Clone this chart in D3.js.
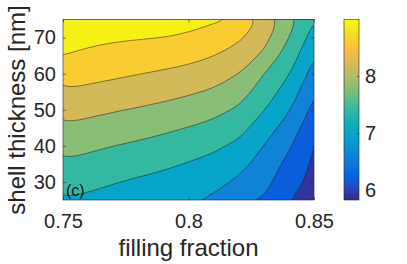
<!DOCTYPE html>
<html>
<head>
<meta charset="utf-8">
<script src="https://cdn.jsdelivr.net/npm/d3@7"></script>
<style>
  body { margin: 0; background: #fff; }
  svg { display: block; font-family: "Liberation Sans", Arial, Helvetica, sans-serif; }
</style>
</head>
<body>
<svg id="chart" width="407" height="264"></svg>
<script>
// grid of the contour plot: columns = filling fraction, rows = shell thickness
const fraction  = [0.75, 0.76, 0.77, 0.78, 0.79, 0.80, 0.81, 0.82, 0.83, 0.84, 0.85];
const thickness = [25, 30, 35, 40, 45, 50, 55, 60, 65, 70, 75];

// one row per thickness value (25 nm first)
const zRows = [
  [7.19, 7.13, 7.07, 7.00, 6.94, 6.87, 6.73, 6.56, 6.38, 6.02, 5.83],
  [7.37, 7.29, 7.22, 7.15, 7.08, 7.01, 6.92, 6.73, 6.52, 6.15, 5.89],
  [7.55, 7.48, 7.41, 7.34, 7.27, 7.18, 7.09, 6.92, 6.66, 6.29, 5.94],
  [7.75, 7.68, 7.60, 7.54, 7.47, 7.38, 7.27, 7.12, 6.79, 6.45, 5.99],
  [7.95, 7.88, 7.82, 7.75, 7.67, 7.59, 7.49, 7.33, 7.01, 6.62, 6.14],
  [8.16, 8.10, 8.03, 7.97, 7.90, 7.82, 7.72, 7.54, 7.22, 6.84, 6.29],
  [8.37, 8.31, 8.25, 8.19, 8.13, 8.05, 7.95, 7.78, 7.42, 7.02, 6.46],
  [8.59, 8.53, 8.47, 8.41, 8.35, 8.28, 8.19, 8.02, 7.60, 7.22, 6.65],
  [8.80, 8.74, 8.69, 8.64, 8.58, 8.52, 8.42, 8.23, 7.92, 7.42, 6.84],
  [8.89, 8.87, 8.84, 8.82, 8.80, 8.78, 8.66, 8.46, 8.14, 7.60, 7.03],
  [8.99, 8.96, 8.93, 8.90, 8.87, 8.85, 8.84, 8.76, 8.31, 7.76, 7.22]
];

const levels  = [6.0, 6.4, 6.8, 7.2, 7.6, 8.0, 8.4, 8.8];
const xTicks  = [0.75, 0.8, 0.85];
const yTicks  = [30, 40, 50, 60, 70];
const cbTicks = [6, 7, 8];

// parula colormap (sampled)
const parulaPos = [0, 0.079, 0.127, 0.206, 0.286, 0.365, 0.444, 0.524, 0.603, 0.683, 0.762, 0.841, 0.921, 1];
const parulaHex = ["#352a87", "#2b4ac7", "#0363e1", "#1079da", "#108ed2", "#06a4ca", "#15b1b4",
                   "#42bb98", "#7cbf7b", "#aebd67", "#d9ba56", "#fdbe3d", "#f5de21", "#f9fb0e"];

const svg = d3.select("#chart");
const plot = {left: 63, right: 314, top: 19.5, bottom: 200};

const x = d3.scaleLinear().domain([0.75, 0.85]).range([plot.left, plot.right]);
const y = d3.scaleLinear().domain([25, 75]).range([plot.bottom, plot.top]);

const nx = fraction.length, ny = thickness.length;
const values = zRows.flat();
const [zmin, zmax] = d3.extent(values);

const parula = d3.scaleLinear().domain(parulaPos).range(parulaHex).interpolate(d3.interpolateRgb);
const cmap = v => parula((v - zmin) / (zmax - zmin));

// d3.contours puts sample i at grid coordinate i + 0.5
const gx = d3.scaleLinear().domain([0.5, nx - 0.5]).range(d3.extent(fraction));
const gy = d3.scaleLinear().domain([0.5, ny - 0.5]).range(d3.extent(thickness));

// rings -> smooth closed curves in pixel space (drop points that sit too close together)
const ringLine = d3.line().curve(d3.curveBasisClosed);
function toPixels(ring) {
  const out = [];
  ring.slice(0, -1).forEach(([px, py]) => {
    const p = [x(gx(px)), y(gy(py))];
    const last = out[out.length - 1];
    if (!last || Math.hypot(p[0] - last[0], p[1] - last[1]) > 4) out.push(p);
  });
  return out;
}
function contourPath(mp) {
  return mp.coordinates.map(poly => poly.map(ring => ringLine(toPixels(ring))).join("")).join("");
}

const thresholds = [zmin, ...levels];
const bands = d3.contours().size([nx, ny]).thresholds(thresholds)(values);

svg.append("clipPath").attr("id", "clip")
  .append("rect")
  .attr("x", plot.left).attr("y", plot.top)
  .attr("width", plot.right - plot.left).attr("height", plot.bottom - plot.top);

const g = svg.append("g").attr("clip-path", "url(#clip)");

g.selectAll("path.band")
  .data(bands)
  .join("path")
  .attr("class", "band")
  .attr("d", contourPath)
  .attr("fill-rule", "evenodd")
  .attr("fill", (d, i) => {
    const hi = i + 1 < thresholds.length ? thresholds[i + 1] : zmax;
    return cmap((d.value + hi) / 2);
  });

g.selectAll("path.line")
  .data(bands.filter(d => levels.includes(d.value)))
  .join("path")
  .attr("class", "line")
  .attr("d", contourPath)
  .attr("fill", "none")
  .attr("stroke", "#1a1a1a")
  .attr("stroke-width", 0.6)
  .attr("stroke-opacity", 0.85);

// axes
const axisColor = "#262626";
function styleAxis(sel, size) {
  sel.select(".domain").remove();
  sel.selectAll(".tick line").attr("stroke", axisColor).attr("stroke-width", 0.6);
  sel.selectAll(".tick text").attr("fill", axisColor).attr("font-size", size);
}

svg.append("g")
  .attr("transform", `translate(0,${plot.bottom})`)
  .call(d3.axisBottom(x).tickValues(xTicks).tickFormat(d3.format("")).tickSize(-3).tickPadding(14))
  .call(s => styleAxis(s, 20));

svg.append("g")
  .attr("transform", `translate(0,${plot.top})`)
  .call(d3.axisTop(x).tickValues(xTicks).tickFormat("").tickSize(-3))
  .call(s => styleAxis(s, 20));

svg.append("g")
  .attr("transform", `translate(${plot.left},0)`)
  .call(d3.axisLeft(y).tickValues(yTicks).tickSize(-3).tickPadding(7))
  .call(s => styleAxis(s, 20));

svg.append("g")
  .attr("transform", `translate(${plot.right},0)`)
  .call(d3.axisRight(y).tickValues(yTicks).tickFormat("").tickSize(-3))
  .call(s => styleAxis(s, 20));

svg.append("rect")
  .attr("x", plot.left).attr("y", plot.top)
  .attr("width", plot.right - plot.left).attr("height", plot.bottom - plot.top)
  .attr("fill", "none").attr("stroke", axisColor).attr("stroke-width", 0.6);

svg.append("text")
  .attr("x", 66).attr("y", 196)
  .attr("font-size", 16).attr("fill", "#111")
  .text("(c)");

svg.append("text")
  .attr("x", (plot.left + plot.right) / 2).attr("y", 256)
  .attr("text-anchor", "middle").attr("font-size", 24).attr("fill", axisColor)
  .text("filling fraction");

svg.append("text")
  .attr("transform", `translate(25,${110}) rotate(-90)`)
  .attr("text-anchor", "middle").attr("font-size", 24).attr("fill", axisColor)
  .text("shell thickness [nm]");

// colorbar
const cb = {left: 344, right: 359, top: 19.5, bottom: 200};
const cy = d3.scaleLinear().domain([zmin, zmax]).range([cb.bottom, cb.top]);

const grad = svg.append("defs").append("linearGradient")
  .attr("id", "cbgrad").attr("x1", 0).attr("y1", 1).attr("x2", 0).attr("y2", 0);
grad.selectAll("stop")
  .data(parulaPos)
  .join("stop")
  .attr("offset", d => d)
  .attr("stop-color", (d, i) => parulaHex[i]);

svg.append("rect")
  .attr("x", cb.left).attr("y", cb.top)
  .attr("width", cb.right - cb.left).attr("height", cb.bottom - cb.top)
  .attr("fill", "url(#cbgrad)")
  .attr("stroke", axisColor).attr("stroke-width", 0.6);

svg.append("g")
  .attr("transform", `translate(${cb.right},0)`)
  .call(d3.axisRight(cy).tickValues(cbTicks).tickFormat(d3.format("d")).tickSize(-2).tickPadding(6))
  .call(s => styleAxis(s, 20));
</script>
</body>
</html>
